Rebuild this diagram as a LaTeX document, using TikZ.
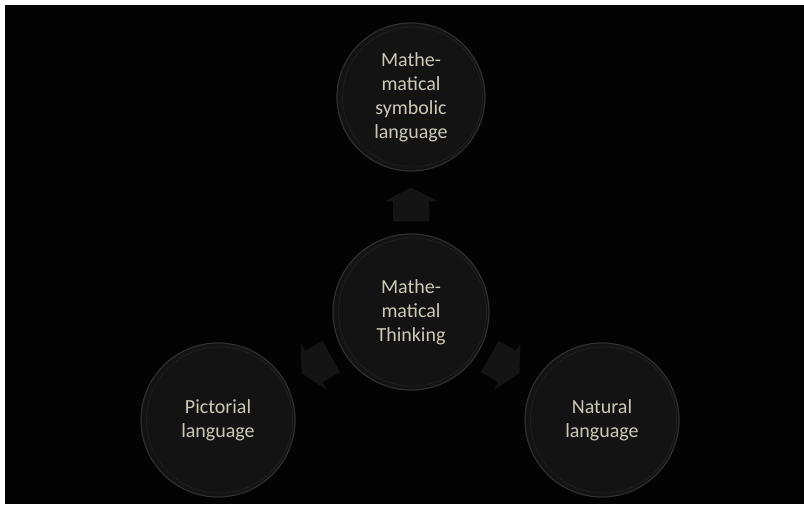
\documentclass[tikz,border=0pt]{standalone}
\usepackage{fontspec}
\setmainfont{Carlito}
\usetikzlibrary{calc}
\definecolor{bgblack}{HTML}{030303}
\definecolor{discfill}{HTML}{131313}
\definecolor{discrim}{HTML}{2E2E2E}
\definecolor{discring}{HTML}{202020}
\definecolor{txtcol}{HTML}{CFC8B8}
\definecolor{arrowfill}{HTML}{141414}
\tikzset{
  disc/.style={circle, fill=discfill, draw=discrim, line width=1.2pt,
    minimum size=#1, inner sep=0pt, align=center, text=txtcol,
    font=\fontsize{20pt}{24pt}\selectfont},
  blockarrow/.style={fill=arrowfill, draw=none}
}
\begin{document}
\begin{tikzpicture}[x=1pt,y=-1pt]
\useasboundingbox (0,0) rectangle (804,510);
\fill[white] (0,0) rectangle (804,510);
\fill[bgblack] (5,5) rectangle (804,504);
% discs
\node[disc=148pt] (top) at (411,97) {Mathe-\\matical\\symbolic\\language};
\node[disc=156pt] (mid) at (411,312) {Mathe-\\matical\\Thinking};
\node[disc=154pt] (left) at (218,420) {Pictorial\\language};
\node[disc=154pt] (right) at (602,420) {Natural\\language};
% inner rings
\foreach \n/\r in {top/70, mid/74, left/73, right/73}{
  \draw[discring, line width=0.8pt] ($(\n.center)+(1.5,0)$) circle (\r);
}
% block arrows between discs (local x axis points from mid towards target)
\foreach \t/\f/\ang in {top/0.5/90, left/0.49/209.2, right/0.49/-29.2}{
  \begin{scope}[shift={($(mid)!\f!(\t)$)}, rotate=\ang]
    \fill[blockarrow] (-17,-18) -- (3,-18) -- (3,-27) -- (17,0) -- (3,27)
      -- (3,18) -- (-17,18) -- cycle;
  \end{scope}
}
\end{tikzpicture}
\end{document}
